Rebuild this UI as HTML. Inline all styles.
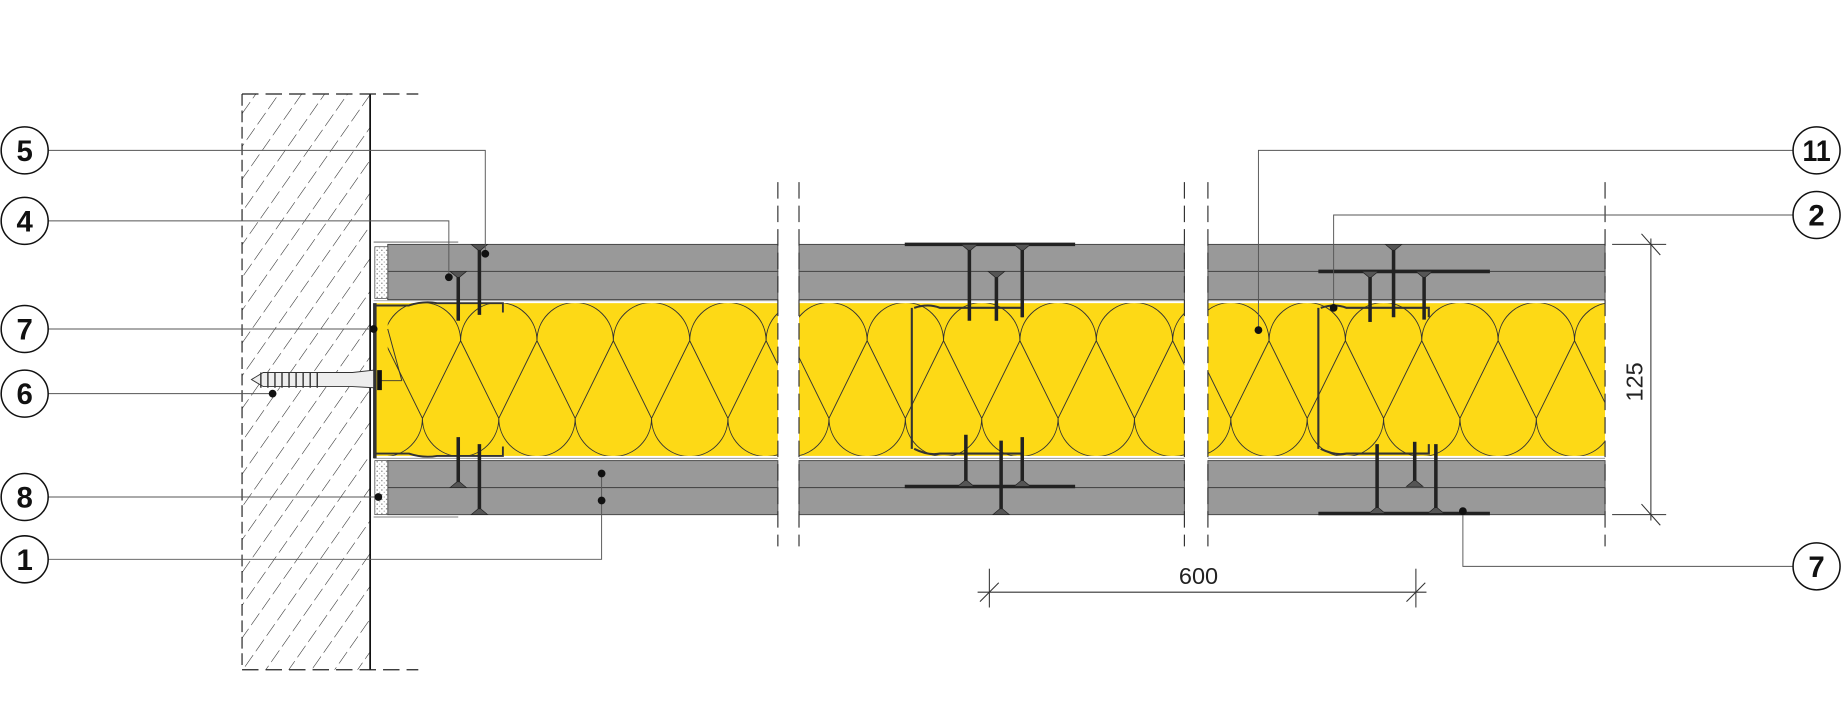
<!DOCTYPE html>
<html><head><meta charset="utf-8"><style>
html,body{margin:0;padding:0;background:#fff;width:1843px;height:709px;overflow:hidden}
svg{display:block}
text{font-family:"Liberation Sans",sans-serif}
</style></head><body>
<svg id="s" width="1843" height="709" viewBox="0 0 1568.5 603.4" xmlns="http://www.w3.org/2000/svg">
<defs>
<pattern id="h" patternUnits="userSpaceOnUse" width="16" height="16" patternTransform="rotate(35)">
<line x1="0" y1="0" x2="0" y2="16" stroke="#222" stroke-width="0.9" stroke-dasharray="9 4"/>
</pattern>
<pattern id="dots" patternUnits="userSpaceOnUse" width="4" height="4">
<rect width="4" height="4" fill="#fff"/><circle cx="1" cy="1" r="0.6" fill="#777"/><circle cx="3" cy="3" r="0.5" fill="#999"/>
</pattern>
<clipPath id="c1"><rect x="330" y="258" width="332" height="130"/></clipPath>
<clipPath id="c2"><rect x="680" y="258" width="328" height="130"/></clipPath>
<clipPath id="c3"><rect x="1028" y="258" width="338" height="130"/></clipPath>
</defs>
<rect x="206" y="80" width="109" height="490" fill="url(#h)"/>
<line x1="206" y1="80" x2="206" y2="570" stroke="#222" stroke-width="1" stroke-dasharray="10 4"/>
<line x1="315" y1="80" x2="315" y2="570" stroke="#111" stroke-width="1.5"/>
<line x1="206" y1="80" x2="356" y2="80" stroke="#222" stroke-width="1" stroke-dasharray="14 6"/>
<line x1="206" y1="570" x2="356" y2="570" stroke="#222" stroke-width="1" stroke-dasharray="14 6"/>
<g fill="#999" stroke="#444" stroke-width="0.8">
<rect x="330" y="208" width="332" height="23"/><rect x="330" y="231" width="332" height="24"/>
<rect x="330" y="392" width="332" height="23"/><rect x="330" y="415" width="332" height="23"/>
<rect x="680" y="208" width="328" height="23"/><rect x="680" y="231" width="328" height="24"/>
<rect x="680" y="392" width="328" height="23"/><rect x="680" y="415" width="328" height="23"/>
<rect x="1028" y="208" width="338" height="23"/><rect x="1028" y="231" width="338" height="24"/>
<rect x="1028" y="392" width="338" height="23"/><rect x="1028" y="415" width="338" height="23"/>
</g>
<rect x="319" y="210" width="11" height="44" fill="url(#dots)" stroke="#444" stroke-width="0.6"/>
<rect x="319" y="392" width="11" height="46" fill="url(#dots)" stroke="#444" stroke-width="0.6"/>
<path d="M318 206 H390 M318 440 H390" stroke="#555" stroke-width="0.7" fill="none"/>
<rect x="320" y="258" width="342" height="130" fill="#fdd916"/>
<rect x="680" y="258" width="328" height="130" fill="#fdd916"/>
<rect x="1028" y="258" width="338" height="130" fill="#fdd916"/>
<g id="ins" fill="none" stroke="#333" stroke-width="0.8"></g>
<path d="M318 256 H662 M318 390 H662 M680 256 H1008 M680 390 H1008 M1028 256 H1366 M1028 390 H1366" stroke="#777" stroke-width="0.6"/>
<path d="M320 260 H348 Q360 256 372 258 H428 V266 M320 386 H348 Q360 390 372 388 H428 V380" stroke="#333" stroke-width="1.6" fill="none"/>
<path d="M319 258 V390" stroke="#333" stroke-width="3" fill="none"/>
<path d="M342 324 L330 280 M342 324 H324" stroke="#333" stroke-width="0.8" fill="none"/>
<path d="M214 323 L224 317 H300 L318 315 V330 L300 329 H224 Z" fill="#eee" stroke="#333" stroke-width="0.8"/>
<path d="M222 317 V330 M228 317 V330 M234 317 V330 M240 317 V330 M246 317 V330 M252 317 V330 M258 317 V330 M264 317 V330 M270 317 V330" stroke="#333" stroke-width="1.2"/>
<rect x="321" y="315" width="4" height="17" fill="#111"/>
<path d="M776 262 V382 M778 262 Q790 258 800 262 H870 V270 M778 382 Q790 388 800 386 H870 V378" stroke="#333" stroke-width="1.8" fill="none"/>
<path d="M1122 262 V382 M1124 262 Q1136 258 1146 262 H1216 V270 M1124 382 Q1136 388 1146 386 H1216 V378" stroke="#333" stroke-width="1.8" fill="none"/>
<g stroke="#222" stroke-width="3" fill="none">
<line x1="770" y1="208" x2="915" y2="208"/><line x1="770" y1="414" x2="915" y2="414"/>
<line x1="1122" y1="231" x2="1268" y2="231"/><line x1="1122" y1="437" x2="1268" y2="437"/>
</g>
<g id="screws" stroke="#222" fill="#777"></g>
<g stroke="#333" stroke-width="1" stroke-dasharray="14 6">
<line x1="662" y1="155" x2="662" y2="465"/><line x1="680" y1="155" x2="680" y2="465"/>
<line x1="1008" y1="155" x2="1008" y2="465"/><line x1="1028" y1="155" x2="1028" y2="465"/>
<line x1="1366" y1="155" x2="1366" y2="465"/>
</g>
<g stroke="#333" stroke-width="0.9">
<line x1="1405" y1="203" x2="1405" y2="443"/>
<line x1="1372" y1="208" x2="1418" y2="208"/><line x1="1372" y1="438" x2="1418" y2="438"/>
<line x1="1397" y1="199" x2="1413" y2="217"/><line x1="1397" y1="429" x2="1413" y2="447"/>
<line x1="832" y1="504" x2="1214" y2="504"/>
<line x1="842" y1="484" x2="842" y2="517"/><line x1="1205" y1="484" x2="1205" y2="517"/>
<line x1="834" y1="512" x2="850" y2="496"/><line x1="1197" y1="512" x2="1213" y2="496"/>
</g>
<text x="1020" y="497" font-size="20" text-anchor="middle" fill="#222">600</text>
<text transform="translate(1398,325) rotate(-90)" font-size="20" text-anchor="middle" fill="#222">125</text>
<g stroke="#555" stroke-width="0.8" fill="none">
<path d="M41 128 H413 V216"/><path d="M41 188 H382 V236"/><path d="M41 280 H318"/>
<path d="M41 335 H232"/><path d="M41 423 H322"/><path d="M41 476 H512 V403"/>
<path d="M1526 128 H1071 V281"/><path d="M1526 183 H1135 V262"/><path d="M1526 482 H1245 V435"/>
</g>
<g fill="#111">
<circle cx="413" cy="216" r="3.3"/><circle cx="382" cy="236" r="3.3"/><circle cx="318" cy="280" r="3.3"/>
<circle cx="232" cy="335" r="3.3"/><circle cx="322" cy="423" r="3.3"/><circle cx="512" cy="403" r="3.3"/>
<circle cx="512" cy="426" r="3.3"/><circle cx="1071" cy="281" r="3.3"/><circle cx="1135" cy="262" r="3.3"/>
<circle cx="1245" cy="435" r="3.3"/>
</g>
<g fill="#fff" stroke="#111" stroke-width="1.3">
<circle cx="21" cy="128" r="20"/><circle cx="21" cy="188" r="20"/><circle cx="21" cy="280" r="20"/>
<circle cx="21" cy="335" r="20"/><circle cx="21" cy="423" r="20"/><circle cx="21" cy="476" r="20"/>
<circle cx="1546" cy="128" r="20"/><circle cx="1546" cy="183" r="20"/><circle cx="1546" cy="482" r="20"/>
</g>
<g font-size="25" font-weight="bold" text-anchor="middle" fill="#111">
<text x="21" y="137">5</text><text x="21" y="197">4</text><text x="21" y="289">7</text>
<text x="21" y="344">6</text><text x="21" y="432">8</text><text x="21" y="485">1</text>
<text x="1546" y="137" textLength="24" lengthAdjust="spacingAndGlyphs">11</text><text x="1546" y="192">2</text><text x="1546" y="491">7</text>
</g>
</svg>
<script>
var NS="http://www.w3.org/2000/svg";
function el(p,t,a){var e=document.createElementNS(NS,t);for(var k in a)e.setAttribute(k,a[k]);p.appendChild(e);return e;}
var ins=document.getElementById('ins');
[[1,392],[2,803],[3,1080]].forEach(function(s){
 var g=el(ins,'g',{'clip-path':'url(#c'+s[0]+')'});var P=65,R=32.5,d='';
 for(var k=-8;k<8;k++){var a=s[1]+k*P,b=a+P/2;
  d+='M'+a+' 290 A'+R+' '+R+' 0 0 1 '+(a+P)+' 290 ';
  d+='M'+b+' 356 A'+R+' '+R+' 0 0 0 '+(b+P)+' 356 ';
  d+='M'+a+' 290 L'+(a+P/2)+' 356 M'+a+' 290 L'+(a-P/2)+' 356 ';}
 el(g,'path',{d:d});
});
var sc=document.getElementById('screws');
function screw(x,y1,y2){var up=y2<y1;el(sc,'line',{x1:x,y1:y1,x2:x,y2:y2,'stroke-width':3});
 el(sc,'path',{d:'M'+(x-7)+' '+y1+' H'+(x+7)+' L'+(x+1)+' '+(y1+(up?-5:5))+' H'+(x-1)+' Z',fill:'#555','stroke-width':0.6});}
[[390,231,273],[408,208,268],[390,415,372],[408,438,378],
 [825,208,273],[848,231,273],[870,208,270],[822,414,370],[852,438,375],[870,414,372],
 [1166,231,274],[1186,208,270],[1212,231,272],[1172,437,378],[1204,414,376],[1222,437,378]].forEach(function(s){screw(s[0],s[1],s[2]);});
</script>
</body></html>
